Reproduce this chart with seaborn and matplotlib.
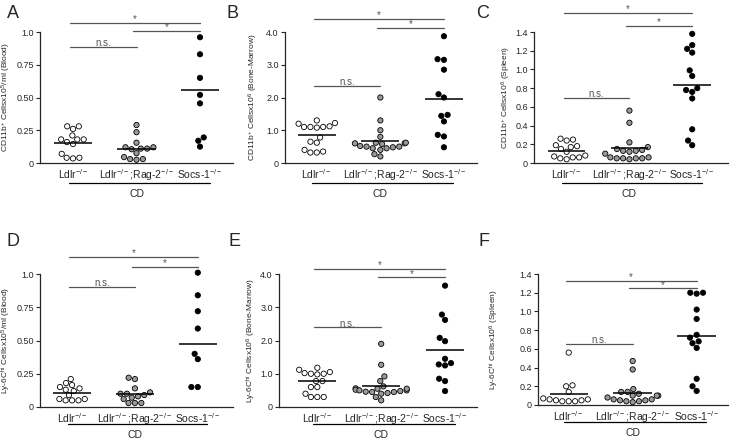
import numpy as np
import pandas as pd
import seaborn as sns
import matplotlib.pyplot as plt

# group names on the x axis
groups = ["Ldlr$^{-/-}$", "Ldlr$^{-/-}$;Rag-2$^{-/-}$", "Socs-1$^{-/-}$"]
colors = ["white", "#9a9a9a", "black"]

# A: CD11b+ blood
a_ldlr = [0.28, 0.28, 0.26, 0.18, 0.16, 0.21, 0.145, 0.18, 0.18, 0.04, 0.035, 0.04, 0.07]
a_rag = [0.29, 0.235, 0.11, 0.12, 0.155, 0.105, 0.12, 0.075, 0.11, 0.03, 0.03, 0.025, 0.045]
a_socs = [0.96, 0.83, 0.65, 0.52, 0.455, 0.195, 0.17, 0.125]
a_lines = [0.155, 0.107, 0.56]

# B: CD11b+ bone marrow
b_ldlr = [1.30, 1.22, 1.20, 1.12, 1.10, 1.10, 1.08, 1.10, 0.78, 0.65, 0.62, 0.40, 0.35, 0.32, 0.32]
b_rag = [2.0, 1.3, 1.0, 0.8, 0.62, 0.6, 0.58, 0.6, 0.62, 0.5, 0.45, 0.48, 0.5, 0.45, 0.52, 0.27, 0.2, 0.4]
b_socs = [3.87, 3.17, 3.15, 2.85, 2.10, 2.0, 1.47, 1.27, 1.44, 0.86, 0.81, 0.48]
b_lines = [0.84, 0.66, 1.96]

# C: CD11b+ spleen
c_ldlr = [0.24, 0.25, 0.26, 0.19, 0.17, 0.18, 0.15, 0.12, 0.08, 0.07, 0.06, 0.04, 0.06, 0.05]
c_rag = [0.56, 0.43, 0.22, 0.17, 0.15, 0.13, 0.13, 0.12, 0.14, 0.1, 0.06, 0.05, 0.05, 0.05, 0.06, 0.05, 0.04]
c_socs = [1.38, 1.26, 1.22, 1.18, 0.99, 0.93, 0.80, 0.78, 0.76, 0.69, 0.36, 0.24, 0.19]
c_lines = [0.132, 0.157, 0.83]

# D: Ly-6Chi blood
d_ldlr = [0.21, 0.18, 0.165, 0.15, 0.14, 0.13, 0.12, 0.09, 0.06, 0.05, 0.05, 0.05, 0.06]
d_rag = [0.22, 0.21, 0.14, 0.11, 0.10, 0.10, 0.09, 0.08, 0.07, 0.06, 0.03, 0.03, 0.03]
d_socs = [1.01, 0.84, 0.72, 0.59, 0.40, 0.36, 0.15, 0.15]
d_lines = [0.105, 0.095, 0.47]

# E: Ly-6Chi bone marrow
e_ldlr = [1.18, 1.12, 1.05, 1.0, 1.0, 0.98, 1.02, 0.78, 0.78, 0.6, 0.6, 0.4, 0.3, 0.3, 0.3]
e_rag = [1.9, 1.27, 0.92, 0.78, 0.62, 0.56, 0.55, 0.52, 0.5, 0.5, 0.55, 0.48, 0.46, 0.45, 0.42, 0.4, 0.3, 0.2, 0.45]
e_socs = [3.65, 2.78, 2.62, 2.08, 1.98, 1.45, 1.32, 1.25, 1.28, 0.85, 0.78, 0.48]
e_lines = [0.78, 0.62, 1.70]

# F: Ly-6Chi spleen
f_ldlr = [0.56, 0.2, 0.21, 0.14, 0.06, 0.05, 0.04, 0.05, 0.06, 0.07, 0.04, 0.04]
f_rag = [0.47, 0.38, 0.17, 0.14, 0.14, 0.12, 0.1, 0.1, 0.1, 0.08, 0.06, 0.05, 0.05, 0.04, 0.04, 0.03, 0.06]
f_socs = [1.2, 1.19, 1.2, 1.02, 0.92, 0.75, 0.72, 0.68, 0.66, 0.61, 0.28, 0.2, 0.15]
f_lines = [0.12, 0.125, 0.74]

ylabels = [
    "CD11b$^{+}$ Cellsx10$^{5}$/ml (Blood)",
    "CD11b$^{+}$ Cellsx10$^{6}$ (Bone-Marrow)",
    "CD11b$^{+}$ Cellsx10$^{6}$ (Spleen)",
    "Ly-6C$^{hi}$ Cellsx10$^{5}$/ml (Blood)",
    "Ly-6C$^{hi}$ Cellsx10$^{6}$ (Bone-Marrow)",
    "Ly-6C$^{hi}$ Cellsx10$^{6}$ (Spleen)",
]
blood_ticks = [0, 0.25, 0.5, 0.75, 1.0]
blood_labels = ["0", "0.25", "0.50", "0.75", "1.0"]
bm_ticks = [0, 1, 2, 3, 4]
bm_labels = ["0", "1.0", "2.0", "3.0", "4.0"]
sp_ticks = [0, 0.2, 0.4, 0.6, 0.8, 1.0, 1.2, 1.4]
sp_labels = ["0", "0.2", "0.4", "0.6", "0.8", "1.0", "1.2", "1.4"]

comparisons = [(0, 2, "*"), (1, 2, "*"), (0, 1, "n.s.")]

sns.set_style("ticks")
plt.rcParams["font.family"] = ["Liberation Sans", "DejaVu Sans"]
plt.rcParams["mathtext.fontset"] = "custom"
plt.rcParams["mathtext.rm"] = "Liberation Sans"
plt.rcParams["mathtext.it"] = "Liberation Sans"
plt.rcParams["mathtext.default"] = "regular"

fig = plt.figure(figsize=(7.31, 4.43), dpi=100)
W, H = 731.0, 443.0

# layout, in pixels: left, right, top, bottom
rects = [(40, 233, 32, 163), (285, 477, 32, 163), (534, 728, 32, 163),
         (40, 233, 274, 407), (279, 477, 274, 407), (538, 728, 274, 405)]
xlims = [(-0.52, 2.52), (-0.5, 2.52), (-0.52, 2.57),
         (-0.51, 2.56), (-0.6, 2.5), (-0.48, 2.49)]
# right edge of the rotated y label, pixels
ylabel_x = [13, 260, 513, 13, 258, 501]
sig_heights = [(1.069, 1.008, 0.885), (1.10, 1.033, 0.59), (1.143, 1.048, 0.50),
               (1.13, 1.055, 0.905), (1.04, 0.975, 0.60), (0.947, 0.89, 0.466)]
letters = ["A", "B", "C", "D", "E", "F"]
letter_pos = [(13, 13), (232, 13), (483, 13), (13, 241), (235, 241), (484, 241)]

panels = [
    (a_ldlr, a_rag, a_socs, a_lines, blood_ticks, blood_labels),
    (b_ldlr, b_rag, b_socs, b_lines, bm_ticks, bm_labels),
    (c_ldlr, c_rag, c_socs, c_lines, sp_ticks, sp_labels),
    (d_ldlr, d_rag, d_socs, d_lines, blood_ticks, blood_labels),
    (e_ldlr, e_rag, e_socs, e_lines, bm_ticks, bm_labels),
    (f_ldlr, f_rag, f_socs, f_lines, sp_ticks, sp_labels),
]

for i, (ldlr, rag, socs, lines, ticks, tlabels) in enumerate(panels):
    l, r, t, b = rects[i]
    ax = fig.add_axes([l / W, 1 - b / H, (r - l) / W, (b - t) / H])
    df = pd.DataFrame({
        "group": [groups[0]] * len(ldlr) + [groups[1]] * len(rag) + [groups[2]] * len(socs),
        "value": ldlr + rag + socs,
    })
    sns.swarmplot(data=df, x="group", y="value", hue="group", order=groups,
                  hue_order=groups, palette=colors, size=3.8, edgecolor="black",
                  linewidth=0.6, legend=False, ax=ax)
    for coll in ax.collections:
        coll.set_clip_on(False)

    # group mean lines
    ax.hlines(lines, np.arange(3) - 0.3, np.arange(3) + 0.3, color="black", lw=1.1, zorder=3)

    ax.set_xlim(*xlims[i])
    ax.set_ylim(0, ticks[-1])
    ax.set_yticks(ticks)
    ax.set_yticklabels(tlabels, fontsize=6.5)
    ax.set_xlabel("")
    ax.set_ylabel(ylabels[i], fontsize=6)
    ax.yaxis.set_label_coords((ylabel_x[i] - l) / (r - l), 0.5)
    ax.tick_params(axis="x", length=0, labelsize=7.5, pad=3)
    ax.tick_params(axis="y", length=3, width=0.8, pad=1.5)
    sns.despine(ax=ax)
    ax.spines["left"].set_linewidth(0.9)
    ax.spines["bottom"].set_linewidth(0.9)

    # significance bars
    tr = ax.get_xaxis_transform()
    for (g0, g1, lab), y in zip(comparisons, sig_heights[i]):
        x0 = g0 - 0.05
        x1 = g1 + 0.0
        ax.plot([x0, x1], [y, y], transform=tr, color="#555555", lw=0.9, clip_on=False)
        ax.text((x0 + x1) / 2, y - 0.01, lab, transform=tr, ha="center", va="bottom",
                fontsize=7, color="#555555")

    # CD bracket under the groups
    row_top = i < 3
    y_line = -0.153 if row_top else -0.128
    y_cd = -0.237 if row_top else -0.21
    ax.plot([-0.07, 2.15], [y_line, y_line], transform=tr, color="black", lw=0.9, clip_on=False)
    ax.text(1.0, y_cd, "CD", transform=tr, ha="center", va="center", fontsize=7.5)

    lx, ly = letter_pos[i]
    fig.text(lx / W, 1 - ly / H, letters[i], ha="center", va="center", fontsize=13)

fig.savefig("out.png", dpi=100)
